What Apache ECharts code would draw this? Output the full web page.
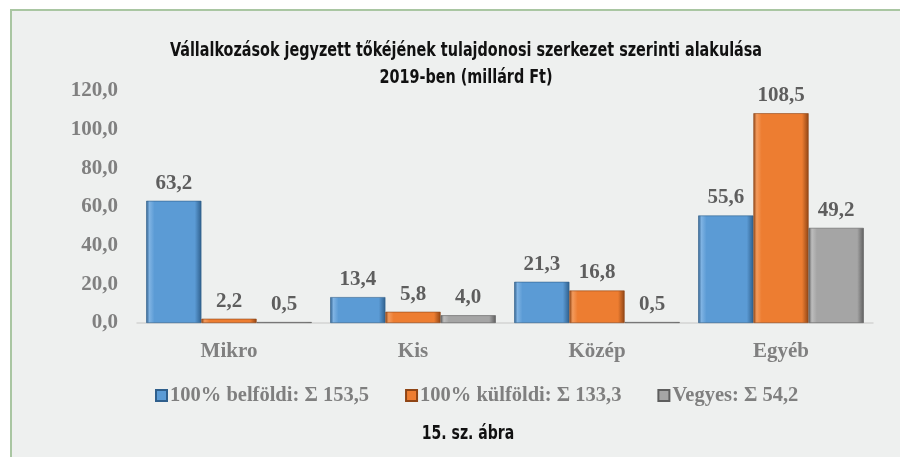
<!DOCTYPE html>
<html>
<head>
<meta charset="utf-8">
<script src="https://cdn.jsdelivr.net/npm/echarts@6/dist/echarts.min.js"></script>
<style>
  html, body { margin: 0; padding: 0; background: #fff; }
  #chart { width: 900px; height: 457px; }
</style>
</head>
<body>
<div id="chart"></div>
<script>
const kategoriak = ['Mikro', 'Kis', 'Közép', 'Egyéb'];
const belfoldi = [63.2, 13.4, 21.3, 55.6];
const kulfoldi = [2.2, 5.8, 16.8, 108.5];
const vegyes = [0.5, 4.0, 0.5, 49.2];
const sorozatNevek = ['100% belföldi: Σ 153,5', '100% külföldi: Σ 133,3', 'Vegyes: Σ 54,2'];
const cim = 'Vállalkozások jegyzett tőkéjének tulajdonosi szerkezet szerinti alakulása\n2019-ben (millárd Ft)';
const abraCim = '15. sz. ábra';

const szinek = [
  { fo: '#5b9bd5', sotet: '#2f5f8c', vilagos: '#7fb3e3' },
  { fo: '#ed7d31', sotet: '#8f4515', vilagos: '#f39a5c' },
  { fo: '#a5a5a5', sotet: '#5e5e5e', vilagos: '#bdbdbd' }
];

const serif = "'Liberation Serif', 'DejaVu Serif', serif";
const keskeny = "'DejaVu Sans Condensed', 'DejaVu Sans', sans-serif";

// vesszos tizedesjel
const fmt = v => v.toFixed(1).replace('.', ',');

function oszlopSzin(c) {
  return new echarts.graphic.LinearGradient(0, 0, 1, 0, [
    { offset: 0, color: c.sotet },
    { offset: 0.06, color: c.vilagos },
    { offset: 0.15, color: c.fo },
    { offset: 0.88, color: c.fo },
    { offset: 1, color: c.sotet }
  ]);
}

const adatok = [belfoldi, kulfoldi, vegyes];

const chart = echarts.init(document.getElementById('chart'));
chart.setOption({
  backgroundColor: '#fff',
  animation: false,
  graphic: [{
    type: 'rect',
    z: -10,
    shape: { x: 11, y: 10, width: 900, height: 460 },
    style: { fill: '#eef0ef' }
  }, {
    type: 'polyline',
    z: -9,
    shape: { points: [[11, 460], [11, 10], [900, 10]] },
    style: { stroke: '#a9c6a2', lineWidth: 2, fill: null }
  }, {
    type: 'text',
    x: 466, y: 37,
    scaleX: 0.8,
    style: {
      text: cim, align: 'center', verticalAlign: 'top',
      font: "bold 20px " + keskeny, lineHeight: 27, fill: '#111'
    }
  }, {
    type: 'text',
    x: 468, y: 424,
    scaleX: 0.78,
    style: {
      text: abraCim, align: 'center', verticalAlign: 'top',
      font: "bold 20px " + keskeny, fill: '#111'
    }
  }],
  legend: {
    top: 380,
    left: 150,
    itemGap: 36,
    itemWidth: 11,
    itemHeight: 11,
    icon: 'rect',
    textStyle: { fontFamily: serif, fontWeight: 'bold', fontSize: 20.5, color: '#7f7f7f', padding: [0, 0, 0, -2] },
    data: sorozatNevek
  },
  grid: { left: 137, right: 27, top: 91, bottom: 134 },
  xAxis: {
    type: 'category',
    data: kategoriak,
    axisLine: { lineStyle: { color: '#d4d4d4', width: 1.5 } },
    axisTick: { show: false },
    axisLabel: { fontFamily: serif, fontWeight: 'bold', fontSize: 21, color: '#808080', margin: 18 }
  },
  yAxis: {
    type: 'value',
    min: 0,
    max: 120,
    interval: 20,
    splitLine: { show: false },
    axisLine: { show: false },
    axisTick: { show: false },
    axisLabel: { fontFamily: serif, fontWeight: 'bold', fontSize: 21, color: '#808080', margin: 19, formatter: fmt }
  },
  series: sorozatNevek.map((nev, i) => ({
    name: nev,
    type: 'bar',
    data: adatok[i],
    barGap: '0%',
    barCategoryGap: '10%',
    itemStyle: {
      color: oszlopSzin(szinek[i]),
      borderColor: szinek[i].sotet,
      borderWidth: 0.6
    },
    label: {
      show: true,
      position: 'top',
      distance: 7,
      fontFamily: serif,
      fontWeight: 'bold',
      fontSize: 21,
      color: '#5e5e5e',
      formatter: p => fmt(p.value)
    }
  }))
});
</script>
</body>
</html>
